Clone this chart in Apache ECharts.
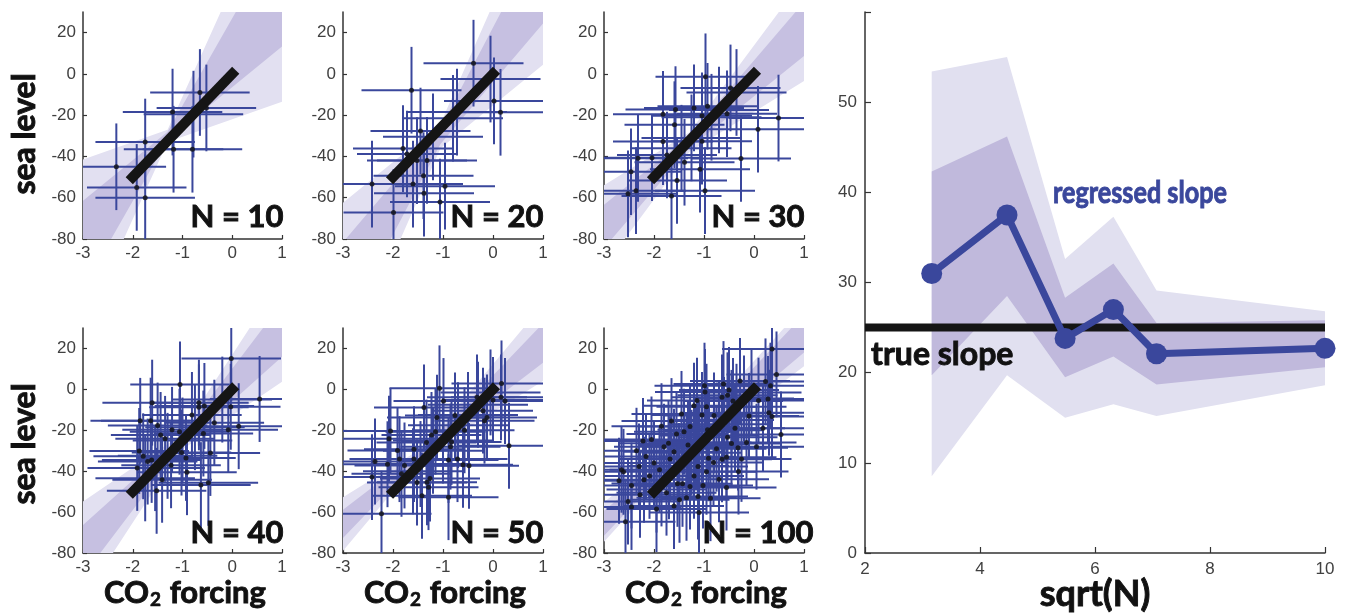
<!DOCTYPE html>
<html><head><meta charset="utf-8">
<script src="https://cdn.jsdelivr.net/npm/echarts/dist/echarts.min.js"></script>
<style>html,body{margin:0;padding:0;background:#fff}#c{width:1352px;height:614px}</style>
</head><body><div id="c"></div>
<script>
// ---------------- data ----------------
const panelN = [10, 20, 30, 40, 50, 100];

const x10 = [-2.33,-1.92,-1.75,-1.75,-1.20,-1.18,-0.80,-0.65,-0.52,-0.78];
const y10 = [-45,-55,-60,-33,-18.5,-36.5,-36.5,-9,-16.5,-19.5];

const x20 = [-0.39,-1.63,0.02,0.15,-1.45,-1.80,-1.72,-1.52,-1.32,-1.39,-2.42,-1.99,-1.60,-1.38,-0.96,-1.06,-0.05,-0.80,-0.72,-1.20];
const y20 = [5.2,-7.9,-13.1,-18.6,-27.7,-36.2,-38.8,-42.0,-41.9,-49.3,-53.4,-67.2,-53.4,-57.8,-54.4,-62.1,-2.5,-21.5,-18.5,-30.5];

const x30 = [-0.97,-0.47,-0.93,-1.20,-1.57,-1.82,-1.04,-0.54,0.49,-1.59,0.08,-1.82,-1.04,-1.74,-2.04,-2.32,-1.39,-0.26,-1.08,-2.46,-1.54,-2.36,-2.52,-1.65,-0.98,-0.70,-1.45,-0.35,-1.25,-0.85];
const y30 = [-1.4,-6.8,-15.7,-16.5,-17.3,-19.6,-20.3,-19.3,-21.4,-24.6,-26.8,-32.8,-32.6,-39.3,-40.6,-40.9,-42.8,-41,-46.2,-47.4,-51.6,-56.6,-58.1,-59.2,-56.6,-17.5,-36,-9,-31,-21];

const x40 = [-0.02,-1.05,0.55,-1.61,-0.67,-0.67,-0.56,-0.03,-0.81,-1.85,-1.64,-1.50,-0.36,0.13,-0.08,-1.21,-1.06,-1.44,-1.35,-0.58,-1.87,-1.79,-1.62,-1.70,-1.02,-0.93,-0.44,-1.23,-1.91,-0.91,-1.41,-0.48,-0.63,-1.52,-1.00,-0.75,-1.30,-1.75,-0.20,-1.55];
const y40 = [15.1,2.4,-4.7,-6.5,-6.5,-8.8,-8.1,-8.5,-12.5,-15.4,-15.3,-17.7,-16.3,-18,-19.7,-19.8,-20.7,-22.3,-24.2,-21.6,-30.1,-32.7,-34.5,-35.3,-30.9,-33.5,-31.1,-37.1,-38.4,-40.5,-44.2,-45.7,-46.8,-49.6,-25,-18.5,-32.5,-43.5,-5,-38.5];

const x50 = [0.17,-1.07,-0.32,0.00,0.16,0.24,-0.99,-1.38,-0.20,-0.76,-1.12,-0.12,-0.17,-0.57,-2.05,-1.15,-1.23,-2.08,-1.33,-0.83,0.32,-0.85,-1.91,-1.58,-1.87,-1.58,-0.89,-0.71,-2.36,-2.11,-1.77,-0.60,-0.48,-1.83,-1.26,-2.42,-1.52,-1.32,-1.29,-1.42,-0.89,-2.23,-0.50,-1.00,-0.30,-1.60,-0.70,-1.20,-1.45,-0.05];
const y50 = [2.9,0.5,-3.9,-5.2,-3.9,-5.7,-5.7,-8.9,-10.4,-12.8,-13.8,-13.7,-15.3,-20,-20.3,-20.7,-22.3,-24.1,-26,-25.7,-27.6,-28,-29.9,-29.3,-34.1,-34.1,-34.5,-34.1,-35.3,-36.6,-37.2,-36.9,-37.4,-41.3,-43.6,-42.9,-45.5,-45.4,-47.8,-52,-52.7,-60.8,-12.5,-25,-7.5,-40,-17.5,-30,-36.5,-1.5];

const x100 = [0.36,0.45,-0.28,0.23,0.33,-0.99,-0.61,-0.50,-0.98,-0.64,-0.53,-0.42,-1.14,0.28,0.09,-1.04,-0.80,0.30,0.36,-1.28,
  -0.93,-0.38,0.18,-1.40,-1.55,0.54,-0.53,-1.71,-1.32,-1.80,-2.22,-0.32,-1.16,-2.16,-0.91,-0.64,-0.55,-2.30,-1.68,-1.89,
  -2.09,-2.61,-2.65,-0.81,-1.12,-0.95,-1.20,-0.31,-2.70,-2.20,-1.53,-1.43,-1.28,-1.02,-2.28,-2.52,-1.49,-1.12,-0.87,-1.95,
  -1.10,-2.57,-1.60,-1.35,-1.85,-0.70,-0.45,-0.20,-1.10,-0.90,-1.50,-1.25,-0.60,-0.35,-1.95,-0.05,-1.70,-0.80,-1.05,-2.45,
  -2.00,-1.75,-0.15,-0.25,-0.70,-0.45,-1.45,-1.20,-1.85,-0.10,-2.35,-0.55,-1.60,-2.05,0.05,-0.95,-1.65,-0.75,-2.45,-1.35];
const y100 = [19.7,7.3,4.1,3.9,1.8,1.8,2.6,-0.3,-1.3,-3.9,-2.9,-5.7,-5.5,-4.7,-5.5,-12.5,-12.8,-11.4,-13.3,-18.2,
  -19.8,-19.0,-19.0,-20.7,-21.8,-22.1,-23.4,-26.3,-27.2,-28.0,-25.2,-28.5,-28.0,-32.8,-33.7,-34.2,-33.2,-37.7,-34.1,-39.3,
  -42.3,-40.3,-39.3,-35.8,-37.7,-40.3,-42.3,-40.2,-44.7,-44.2,-46.2,-46.2,-47.5,-47.0,-51.5,-54.8,-54.0,-52.4,-53.2,-58.5,
  -60.2,-64.7,-30.5,-33.0,-46.0,-17.0,-11.5,-4.5,-27.0,-22.5,-37.5,-31.0,-15.0,-8.5,-49.0,-1.5,-42.5,-20.0,-26.0,-47.0,
  -36.0,-50.5,-26.0,-34.0,-44.0,-26.5,-12.0,-8.0,-18.0,-13.0,-30.0,-48.0,-57.0,-24.5,-28.0,-8.5,-15.5,-29.0,-57.5,-53.0];

const panelX = [x10, x20, x30, x40, x50, x100];
const panelY = [y10, y20, y30, y40, y50, y100];
const errX = [1.0, 1.0, 1.0, 1.0, 1.0, 1.0];     // half-length of horizontal error bars
const errY = [21, 21, 21, 21, 21, 21];           // half-length of vertical error bars

const trueLineX = [-2, 0];
const trueLineY = [-50, 0];

// regression-fan pivots in each small panel
const bandPivotX = [-1.3, -1.05, -1.29, -1.07, -1.4, -1.6];
const bandPivotY = [-30, -30, -33, -26.7, -30.4, -33];
const bandHalfOuter = [3, 6, 4.75, 3.75, 2, 4];
const bandHalfInner = [2, 4, 3, 2.5, 1.5, 2.5];

// right panel
const sqrtN = [3.16, 4.47, 5.48, 6.32, 7.07, 10];
const regressedSlope = [31.0, 37.5, 23.8, 27.0, 22.1, 22.7];
const outerUpper = [53.4, 55.0, 32.6, 37.3, 29.1, 26.8];
const outerLower = [8.5, 19.7, 15.0, 16.5, 15.2, 18.6];
const innerUpper = [42.3, 46.2, 28.3, 32.1, 25.5, 25.8];
const innerLower = [19.7, 28.5, 19.5, 21.8, 18.7, 20.6];
const trueSlope = 25;

const smallXTicks = [-3, -2, -1, 0, 1];
const smallYTicks = [-80, -60, -40, -20, 0, 20];

// ---------------- styles ----------------
const BLUE = '#3a479c';
const LIGHT = '#e2e0f1';
const DARK = '#c6c0e1';
const RLIGHT = '#e1e0f0';
const RDARK = '#c0b9dc';
const AX = '#333333';
const LBL = '#404040';
const FONT = 'Liberation Sans';
const BFONT = 'Lato';
const BW = 'bold';

const gridsPx = [[83,12,199,227],[343,12,200,227],[604,12,200,227],[83,328,199,225],[343,328,200,225],[604,328,200,225]];
const rightGrid = [865,12,460,541];

const grid = [], xAxis = [], yAxis = [], series = [];

function axisCommon() {
  return {
    axisLine: { onZero: false, lineStyle: { color: AX, width: 1.5 } },
    axisTick: { inside: true, length: 4, lineStyle: { color: AX, width: 1.2 } },
    axisLabel: { color: LBL, fontSize: 17, fontFamily: FONT },
    splitLine: { show: false }
  };
}

function fanRender(p, sLo, sHi, w, color) {
  return function (params, api) {
    const xc = bandPivotX[p], yc = bandPivotY[p];
    const xs = [-3.6, xc, 1.6];
    const up = xs.map(x => yc + w + Math.max(sLo * (x - xc), sHi * (x - xc)));
    const lo = xs.map(x => yc - w + Math.min(sLo * (x - xc), sHi * (x - xc)));
    const pts = xs.map((x, i) => api.coord([x, up[i]]))
      .concat(xs.map((x, i) => api.coord([x, lo[i]])).reverse());
    return { type: 'polygon', shape: { points: pts }, style: { fill: color } };
  };
}

function errRender(params, api) {
  const x = api.value(0), y = api.value(1), ex = api.value(2), ey = api.value(3);
  const a = api.coord([x - ex, y]), b = api.coord([x + ex, y]);
  const c = api.coord([x, y - ey]), d = api.coord([x, y + ey]);
  const st = { stroke: BLUE, lineWidth: 2 };
  return { type: 'group', children: [
    { type: 'line', shape: { x1: a[0], y1: a[1], x2: b[0], y2: b[1] }, style: st },
    { type: 'line', shape: { x1: c[0], y1: c[1], x2: d[0], y2: d[1] }, style: st }
  ]};
}

gridsPx.forEach((g, p) => {
  grid.push({ left: g[0], top: g[1], width: g[2], height: g[3] });
  xAxis.push(Object.assign(axisCommon(), {
    type: 'value', gridIndex: p, min: -3, max: 1, interval: 1,
    axisLabel: { color: LBL, fontSize: 17, fontFamily: FONT, margin: 6, customValues: smallXTicks },
    axisTick: { inside: true, length: 4, lineStyle: { color: AX, width: 1.2 }, customValues: smallXTicks }
  }));
  yAxis.push(Object.assign(axisCommon(), {
    type: 'value', gridIndex: p, min: -80, max: 30, interval: 10,
    axisLabel: { color: LBL, fontSize: 17, fontFamily: FONT, margin: 7, customValues: smallYTicks },
    axisTick: { inside: true, length: 4, lineStyle: { color: AX, width: 1.2 }, customValues: smallYTicks }
  }));
  series.push({
    type: 'custom', xAxisIndex: p, yAxisIndex: p, clip: true, silent: true, z: 1,
    data: [[bandPivotX[p], bandPivotY[p]]], encode: { x: 0, y: 1 },
    renderItem: fanRender(p, outerLower[p], outerUpper[p], bandHalfOuter[p], LIGHT)
  });
  series.push({
    type: 'custom', xAxisIndex: p, yAxisIndex: p, clip: true, silent: true, z: 1,
    data: [[bandPivotX[p], bandPivotY[p]]], encode: { x: 0, y: 1 },
    renderItem: fanRender(p, innerLower[p], innerUpper[p], bandHalfInner[p], DARK)
  });
  series.push({
    type: 'custom', xAxisIndex: p, yAxisIndex: p, clip: true, silent: true, z: 2,
    data: panelX[p].map((x, i) => [x, panelY[p][i], errX[p], errY[p]]), encode: { x: 0, y: 1 },
    renderItem: errRender
  });
  series.push({
    type: 'scatter', xAxisIndex: p, yAxisIndex: p, z: 3, symbolSize: 5, silent: true,
    itemStyle: { color: '#111' },
    data: panelX[p].map((x, i) => [x, panelY[p][i]])
  });
  series.push({
    type: 'line', xAxisIndex: p, yAxisIndex: p, z: 4, symbol: 'none', silent: true,
    lineStyle: { color: '#151515', width: 10, cap: 'square' },
    data: trueLineX.map((x, i) => [x, trueLineY[i]])
  });
});

// right panel
const R = 6;
grid.push({ left: rightGrid[0], top: rightGrid[1], width: rightGrid[2], height: rightGrid[3] });
xAxis.push(Object.assign(axisCommon(), {
  type: 'value', gridIndex: R, min: 2, max: 10, interval: 2,
  axisLabel: { color: LBL, fontSize: 17, fontFamily: FONT, margin: 8 },
  axisTick: { inside: true, length: 6, lineStyle: { color: AX, width: 1.2 } }
}));
yAxis.push(Object.assign(axisCommon(), {
  type: 'value', gridIndex: R, min: 0, max: 60, interval: 10,
  axisLabel: { color: LBL, fontSize: 17, fontFamily: FONT, margin: 8, formatter: v => (v === 60 ? '' : String(v)) },
  axisTick: { inside: true, length: 6, lineStyle: { color: AX, width: 1.2 } }
}));
function bandPoly(upper, lower, color) {
  return {
    type: 'custom', xAxisIndex: R, yAxisIndex: R, clip: true, silent: true, z: 1,
    data: sqrtN.map((x, i) => [x, upper[i], lower[i]]), encode: { x: 0, y: [1, 2] },
    renderItem: function (params, api) {
      if (params.dataIndex !== 0) return null;
      const pts = sqrtN.map((x, i) => api.coord([x, upper[i]]))
        .concat(sqrtN.map((x, i) => api.coord([x, lower[i]])).reverse());
      return { type: 'polygon', shape: { points: pts }, style: { fill: color } };
    }
  };
}
series.push(bandPoly(outerUpper, outerLower, RLIGHT));
series.push(bandPoly(innerUpper, innerLower, RDARK));
series.push({
  type: 'line', xAxisIndex: R, yAxisIndex: R, z: 3, symbol: 'none', silent: true,
  lineStyle: { color: '#151515', width: 8 },
  data: [[2, trueSlope], [10, trueSlope]]
});
series.push({
  type: 'line', xAxisIndex: R, yAxisIndex: R, z: 4, symbol: 'circle', symbolSize: 21, silent: true,
  clip: false,
  lineStyle: { color: BLUE, width: 7 }, itemStyle: { color: BLUE },
  data: sqrtN.map((x, i) => [x, regressedSlope[i]])
});

// ---------------- texts ----------------
const graphic = [];
const bold = (size, color) => ({ fontFamily: BFONT, fontWeight: BW, fontSize: size,
  fill: color || '#111', stroke: color || '#111', lineWidth: 0.9 });
[134, 444].forEach(cy => {
  graphic.push({ type: 'text', z: 100, x: 25, y: cy, rotation: Math.PI / 2,
    style: Object.assign(bold(32), { text: 'sea level', textAlign: 'center', textVerticalAlign: 'middle' }) });
});
gridsPx.forEach((g, p) => {
  graphic.push({ type: 'text', z: 100, x: g[0] + 154, y: g[1] + 205,
    style: Object.assign(bold(31), { text: 'N = ' + panelN[p], textAlign: 'center', textVerticalAlign: 'middle' }) });
});
[3, 4, 5].forEach(p => {
  const g = gridsPx[p];
  graphic.push({ type: 'text', z: 100, x: g[0] + 102, y: 593,
    style: { text: '{a|CO}{b|2}{a| forcing}', textAlign: 'center', textVerticalAlign: 'middle',
      rich: { a: { fontFamily: BFONT, fontWeight: BW, fontSize: 31, fill: '#111', stroke: '#111', lineWidth: 0.9 },
              b: { fontFamily: BFONT, fontWeight: BW, fontSize: 19, fill: '#111', stroke: '#111', lineWidth: 0.6, padding: [14, 1, 0, 1] } } } });
});
graphic.push({ type: 'text', z: 100, x: 1095, y: 594,
  style: Object.assign(bold(36), { text: 'sqrt(N)', textAlign: 'center', textVerticalAlign: 'middle' }) });
graphic.push({ type: 'text', z: 100, x: 1053, y: 193, scaleX: 0.84,
  style: Object.assign(bold(30, BLUE), { text: 'regressed slope', textAlign: 'left', textVerticalAlign: 'middle' }) });
graphic.push({ type: 'text', z: 100, x: 871, y: 355,
  style: Object.assign(bold(32), { text: 'true slope', textAlign: 'left', textVerticalAlign: 'middle' }) });

const chart = echarts.init(document.getElementById('c'), null, { renderer: 'canvas' });
chart.setOption({ animation: false, backgroundColor: '#fff', grid, xAxis, yAxis, series, graphic });
</script></body></html>
